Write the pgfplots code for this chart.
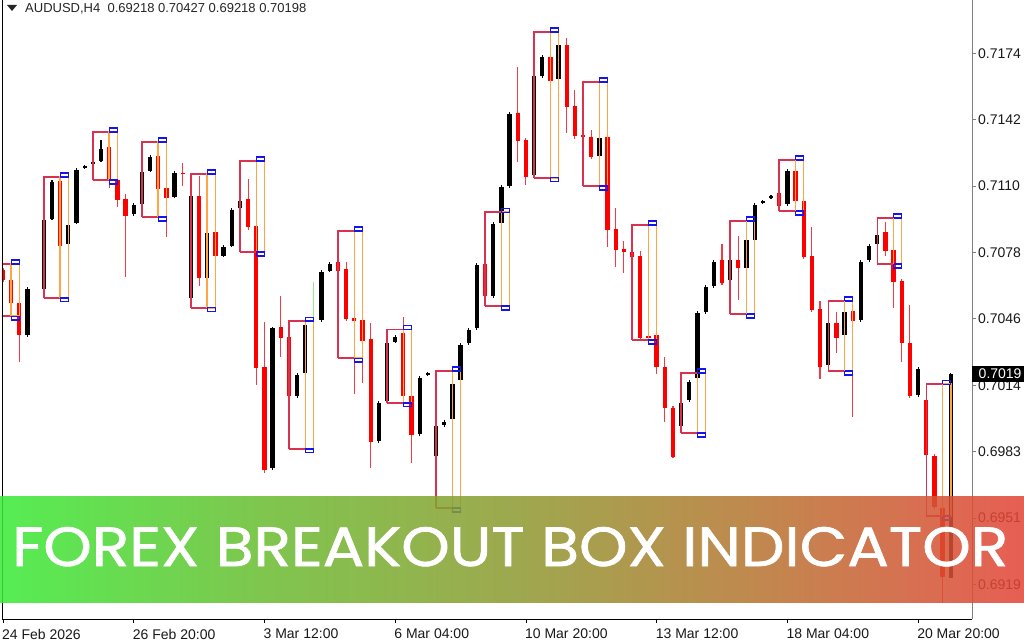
\documentclass[border=0pt]{standalone}
\usepackage{pgfplots}
\pgfplotsset{compat=1.18}
\usepackage{pgfplotstable}
\usepackage{fontspec}
\setmainfont{Liberation Sans}
\newfontfamily\bannerfont[FakeBold=1.2]{Poppins}
\usetikzlibrary{shadings}

\definecolor{crim}{RGB}{215,50,80}
\definecolor{orng}{RGB}{255,165,70}
\definecolor{blu}{RGB}{20,20,235}
\definecolor{wickred}{RGB}{240,60,70}
\definecolor{lgreen}{RGB}{150,230,150}
\definecolor{bA}{RGB}{58,235,55}
\definecolor{bB}{RGB}{105,190,50}
\definecolor{bC}{RGB}{142,155,50}
\definecolor{bD}{RGB}{185,115,50}
\definecolor{bE}{RGB}{228,68,55}
\pgfdeclarehorizontalshading{banner}{100bp}{color(0bp)=(bA); color(25bp)=(bA); color(37.5bp)=(bB); color(50bp)=(bC); color(62.5bp)=(bD); color(75bp)=(bE); color(100bp)=(bE)}

\pgfplotstableread{
i o h l c
3 0.70385 0.70616 0.70375 0.70607
5 0.70607 0.70948 0.70602 0.70938
6 0.70943 0.71131 0.70938 0.71121
8 0.70823 0.70924 0.70813 0.70914
9 0.70924 0.71189 0.70919 0.71179
10 0.71189 0.71203 0.71184 0.71198
11 0.71208 0.71222 0.71203 0.71217
12 0.71222 0.71323 0.71217 0.71280
16 0.70967 0.71020 0.70957 0.71010
17 0.71015 0.71179 0.71005 0.71169
18 0.71174 0.71251 0.71169 0.71241
21 0.71049 0.71174 0.71045 0.71165
23 0.70564 0.71064 0.70516 0.71054
25 0.70660 0.70885 0.70650 0.70876
27 0.70765 0.70818 0.70760 0.70808
28 0.70813 0.70996 0.70808 0.70986
29 0.70996 0.71040 0.70991 0.71029
33 0.69747 0.70428 0.69736 0.70419
36 0.70092 0.70203 0.70083 0.70193
37 0.70203 0.70447 0.70193 0.70433
39 0.70457 0.70698 0.70447 0.70688
40 0.70693 0.70736 0.70688 0.70727
46 0.69876 0.70068 0.69867 0.70059
47 0.70068 0.70356 0.70059 0.70347
48 0.70351 0.70385 0.70347 0.70375
51 0.69910 0.70188 0.69900 0.70179
52 0.70193 0.70207 0.70188 0.70203
53 0.69804 0.69958 0.69554 0.69948
54 0.69953 0.69977 0.69943 0.69967
55 0.69982 0.70159 0.69972 0.70150
56 0.70169 0.70347 0.70159 0.70337
57 0.70347 0.70419 0.70337 0.70409
58 0.70419 0.70732 0.70409 0.70722
60 0.70573 0.70928 0.70564 0.70919
61 0.70924 0.71107 0.70914 0.71097
62 0.71102 0.71457 0.71093 0.71448
65 0.71155 0.71640 0.71141 0.71630
66 0.71630 0.71732 0.71621 0.71722
68 0.71616 0.71790 0.71606 0.71780
73 0.71246 0.71342 0.71237 0.71333
83 0.69948 0.70068 0.69938 0.70059
84 0.70073 0.70169 0.70063 0.70159
85 0.70179 0.70500 0.70169 0.70491
86 0.70495 0.70626 0.70486 0.70616
87 0.70621 0.70746 0.70612 0.70736
89 0.70650 0.70756 0.70640 0.70746
91 0.70708 0.70852 0.70698 0.70842
92 0.70842 0.71020 0.70832 0.71010
93 0.71020 0.71034 0.71015 0.71029
94 0.71045 0.71059 0.71040 0.71054
96 0.71015 0.71184 0.71005 0.71174
101 0.70241 0.70452 0.70231 0.70442
103 0.70385 0.70505 0.70375 0.70495
105 0.70457 0.70746 0.70447 0.70736
106 0.70746 0.70823 0.70736 0.70813
107 0.70823 0.70880 0.70813 0.70870
112 0.70097 0.70231 0.70088 0.70222
116 0.69218 0.70205 0.69218 0.70198
}\bull

\pgfplotstableread{
i o h l c
0 0.70698 0.70708 0.70640 0.70650
1 0.70650 0.70660 0.70530 0.70540
2 0.70540 0.70554 0.70255 0.70385
7 0.71126 0.71145 0.70804 0.70813
13 0.71289 0.71318 0.71093 0.71131
14 0.71131 0.71141 0.71000 0.71034
15 0.71040 0.71064 0.70664 0.70957
19 0.71246 0.71275 0.71083 0.71088
20 0.71093 0.71102 0.70856 0.71045
22 0.71165 0.71213 0.71102 0.71160
24 0.71054 0.71150 0.70621 0.70660
26 0.70880 0.70890 0.70756 0.70765
30 0.71040 0.71136 0.70890 0.70904
31 0.70909 0.70919 0.70145 0.70227
32 0.70231 0.70447 0.69722 0.69736
34 0.70423 0.70573 0.70279 0.70371
35 0.70375 0.70452 0.70083 0.70092
41 0.70736 0.70746 0.70684 0.70693
42 0.70703 0.70736 0.70452 0.70462
43 0.70467 0.70476 0.70102 0.70452
44 0.70457 0.70467 0.70155 0.70356
45 0.70366 0.70443 0.69747 0.69871
49 0.70395 0.70471 0.70083 0.70092
50 0.70092 0.70102 0.69771 0.69905
59 0.70727 0.70736 0.70564 0.70573
63 0.71453 0.71674 0.71217 0.71318
64 0.71323 0.71333 0.71107 0.71145
67 0.71722 0.71732 0.71597 0.71606
69 0.71780 0.71814 0.71357 0.71481
70 0.71486 0.71563 0.71328 0.71342
71 0.71347 0.71352 0.71333 0.71337
72 0.71337 0.71371 0.71232 0.71241
74 0.71337 0.71347 0.70808 0.70890
75 0.70895 0.70996 0.70712 0.70794
76 0.70799 0.70837 0.70684 0.70784
77 0.70784 0.70794 0.70751 0.70760
78 0.70765 0.70789 0.70361 0.70371
79 0.70380 0.70385 0.70366 0.70371
80 0.70385 0.70395 0.70198 0.70231
81 0.70231 0.70279 0.69967 0.70035
82 0.70035 0.70044 0.69795 0.69799
88 0.70746 0.70823 0.70626 0.70636
90 0.70746 0.70861 0.70554 0.70708
95 0.71069 0.71078 0.70996 0.71005
97 0.71174 0.71184 0.71020 0.71029
98 0.71029 0.71040 0.70751 0.70760
99 0.70765 0.70904 0.70495 0.70505
100 0.70511 0.70549 0.70173 0.70231
102 0.70442 0.70495 0.70299 0.70371
104 0.70500 0.70510 0.69991 0.70452
108 0.70880 0.70928 0.70765 0.70789
109 0.70794 0.70803 0.70516 0.70640
110 0.70645 0.70655 0.70255 0.70347
111 0.70347 0.70530 0.70083 0.70092
113 0.70073 0.70083 0.69799 0.69809
114 0.69804 0.69814 0.69549 0.69558
115 0.69554 0.69563 0.69098 0.69222
}\bear

\begin{document}
\begin{tikzpicture}[x=1pt,y=1pt]
\useasboundingbox (0,0) rectangle (1024,640);
\fill[white] (0,0) rectangle (1024,640);
\begin{axis}[
  at={(2pt,21pt)}, anchor=south west,
  scale only axis, width=970pt, height=619pt,
  xmin=-0.12, xmax=118.6, ymin=0.69020, ymax=0.71996,
  axis x line*=bottom, axis y line*=right,
  x axis line style={draw=black, line width=1pt},
  y axis line style={draw=black!50, line width=1pt},
  tick align=outside, major tick length=4pt,
  xtick style={draw=black, line width=0.8pt},
  ytick style={draw=black!50, line width=0.8pt},
  scaled y ticks=false,
  unbounded coords=jump,
  xtick={0,16,32,48,64,80,96,112},
  xticklabels={24 Feb 2026,26 Feb 20:00,3 Mar 12:00,6 Mar 04:00,10 Mar 20:00,13 Mar 12:00,18 Mar 04:00,20 Mar 20:00},
  ytick={0.71740,0.71421,0.71101,0.70782,0.70463,0.70144,0.69825,0.69506,0.69186},
  yticklabels={0.7174,0.7142,0.7110,0.7078,0.7046,0.7014,0.6983,0.6951,0.6919},
  xticklabel style={overlay, anchor=west, inner sep=0pt, font=\fontsize{14}{16}\selectfont, text=black!90, yshift=-11pt, xshift=-1pt},
  yticklabel style={overlay, anchor=west, inner sep=0pt, font=\fontsize{14}{16}\selectfont, text=black!90, xshift=2pt},
  /pgf/number format/assume math mode=true,
]
% wicks
\addplot[draw=none, mark=none, forget plot, error bars/.cd, y dir=both, y explicit, error mark=none,
  error bar style={draw=black, line width=1.1pt}]
  table[x=i, y expr={(\thisrow{h}+\thisrow{l})/2}, y error expr={(\thisrow{h}-\thisrow{l})/2}] {\bull};
\addplot[draw=none, mark=none, forget plot, error bars/.cd, y dir=both, y explicit, error mark=none,
  error bar style={draw=wickred, line width=1.1pt}]
  table[x=i, y expr={(\thisrow{h}+\thisrow{l})/2}, y error expr={(\thisrow{h}-\thisrow{l})/2}] {\bear};
% bodies
\addplot[draw=none, mark=none, forget plot, error bars/.cd, y dir=both, y explicit, error mark=none,
  error bar style={draw=black, line width=4.3pt}]
  table[x=i, y expr={(\thisrow{o}+\thisrow{c})/2}, y error expr={max(abs(\thisrow{o}-\thisrow{c})/2,0.000025)}] {\bull};
\addplot[draw=none, mark=none, forget plot, error bars/.cd, y dir=both, y explicit, error mark=none,
  error bar style={draw=red, line width=4.3pt}]
  table[x=i, y expr={(\thisrow{o}+\thisrow{c})/2}, y error expr={max(abs(\thisrow{o}-\thisrow{c})/2,0.000025)}] {\bear};
\addplot[draw=lgreen, line width=1.1pt, mark=none, forget plot] coordinates {(38,0.70640) (38,0.70457)};
% breakout boxes: session range (crimson), breakout zone (orange), edges (blue)
\addplot[draw=crim, line width=1.4pt, mark=none, forget plot] coordinates {
(-1,0.70476) (1,0.70476) (1,0.70727) (-1,0.70727) (-1,0.70476) (0,nan)
(5,0.70564) (7,0.70564) (7,0.71145) (5,0.71145) (5,0.70564) (0,nan)
(11,0.71131) (13,0.71131) (13,0.71361) (11,0.71361) (11,0.71131) (0,nan)
(17,0.70952) (19,0.70952) (19,0.71313) (17,0.71313) (17,0.70952) (0,nan)
(23,0.70516) (25,0.70516) (25,0.71160) (23,0.71160) (23,0.70516) (0,nan)
(29,0.70784) (31,0.70784) (31,0.71222) (29,0.71222) (29,0.70784) (0,nan)
(35,0.69838) (37,0.69838) (37,0.70452) (35,0.70452) (35,0.69838) (0,nan)
(41,0.70274) (43,0.70274) (43,0.70885) (41,0.70885) (41,0.70274) (0,nan)
(47,0.70059) (49,0.70059) (49,0.70413) (47,0.70413) (47,0.70059) (0,nan)
(53,0.69554) (55,0.69554) (55,0.70212) (53,0.70212) (53,0.69554) (0,nan)
(59,0.70525) (61,0.70525) (61,0.70976) (59,0.70976) (59,0.70525) (0,nan)
(65,0.71141) (67,0.71141) (67,0.71842) (65,0.71842) (65,0.71141) (0,nan)
(71,0.71102) (73,0.71102) (73,0.71602) (71,0.71602) (71,0.71102) (0,nan)
(77,0.70361) (79,0.70361) (79,0.70914) (77,0.70914) (77,0.70361) (0,nan)
(83,0.69914) (85,0.69914) (85,0.70203) (83,0.70203) (83,0.69914) (0,nan)
(89,0.70486) (91,0.70486) (91,0.70933) (89,0.70933) (89,0.70486) (0,nan)
(95,0.70981) (97,0.70981) (97,0.71227) (95,0.71227) (95,0.70981) (0,nan)
(101,0.70212) (103,0.70212) (103,0.70549) (101,0.70549) (101,0.70212) (0,nan)
(107,0.70727) (109,0.70727) (109,0.70948) (107,0.70948) (107,0.70727) (0,nan)
(113,0.69515) (115,0.69515) (115,0.70149) (113,0.70149) (113,0.69515)
};
\addplot[draw=orng, line width=1.5pt, mark=none, forget plot] coordinates {
(1,0.70476) (2,0.70476) (2,0.70727) (1,0.70727) (1,0.70476) (0,nan)
(7,0.70564) (8,0.70564) (8,0.71145) (7,0.71145) (7,0.70564) (0,nan)
(13,0.71131) (14,0.71131) (14,0.71361) (13,0.71361) (13,0.71131) (0,nan)
(19,0.70952) (20,0.70952) (20,0.71313) (19,0.71313) (19,0.70952) (0,nan)
(25,0.70516) (26,0.70516) (26,0.71160) (25,0.71160) (25,0.70516) (0,nan)
(31,0.70784) (32,0.70784) (32,0.71222) (31,0.71222) (31,0.70784) (0,nan)
(37,0.69838) (38,0.69838) (38,0.70452) (37,0.70452) (37,0.69838) (0,nan)
(43,0.70274) (44,0.70274) (44,0.70885) (43,0.70885) (43,0.70274) (0,nan)
(49,0.70059) (50,0.70059) (50,0.70413) (49,0.70413) (49,0.70059) (0,nan)
(55,0.69554) (56,0.69554) (56,0.70212) (55,0.70212) (55,0.69554) (0,nan)
(61,0.70525) (62,0.70525) (62,0.70976) (61,0.70976) (61,0.70525) (0,nan)
(67,0.71141) (68,0.71141) (68,0.71842) (67,0.71842) (67,0.71141) (0,nan)
(73,0.71102) (74,0.71102) (74,0.71602) (73,0.71602) (73,0.71102) (0,nan)
(79,0.70361) (80,0.70361) (80,0.70914) (79,0.70914) (79,0.70361) (0,nan)
(85,0.69914) (86,0.69914) (86,0.70203) (85,0.70203) (85,0.69914) (0,nan)
(91,0.70486) (92,0.70486) (92,0.70933) (91,0.70933) (91,0.70486) (0,nan)
(97,0.70981) (98,0.70981) (98,0.71227) (97,0.71227) (97,0.70981) (0,nan)
(103,0.70212) (104,0.70212) (104,0.70549) (103,0.70549) (103,0.70212) (0,nan)
(109,0.70727) (110,0.70727) (110,0.70948) (109,0.70948) (109,0.70727) (0,nan)
(115,0.69515) (116,0.69515) (116,0.70149) (115,0.70149) (115,0.69515)
};
\addplot[draw=blu, line width=1.3pt, mark=none, forget plot] coordinates {
(1,0.70727) (2,0.70727) (2,0.70746) (1,0.70746) (1,0.70727) (0,nan)
(1,0.70476) (2,0.70476) (2,0.70457) (1,0.70457) (1,0.70476) (0,nan)
(7,0.71145) (8,0.71145) (8,0.71164) (7,0.71164) (7,0.71145) (0,nan)
(7,0.70564) (8,0.70564) (8,0.70545) (7,0.70545) (7,0.70564) (0,nan)
(13,0.71361) (14,0.71361) (14,0.71380) (13,0.71380) (13,0.71361) (0,nan)
(13,0.71131) (14,0.71131) (14,0.71112) (13,0.71112) (13,0.71131) (0,nan)
(19,0.71313) (20,0.71313) (20,0.71332) (19,0.71332) (19,0.71313) (0,nan)
(19,0.70952) (20,0.70952) (20,0.70933) (19,0.70933) (19,0.70952) (0,nan)
(25,0.71160) (26,0.71160) (26,0.71179) (25,0.71179) (25,0.71160) (0,nan)
(25,0.70516) (26,0.70516) (26,0.70497) (25,0.70497) (25,0.70516) (0,nan)
(31,0.71222) (32,0.71222) (32,0.71241) (31,0.71241) (31,0.71222) (0,nan)
(31,0.70784) (32,0.70784) (32,0.70765) (31,0.70765) (31,0.70784) (0,nan)
(37,0.70452) (38,0.70452) (38,0.70471) (37,0.70471) (37,0.70452) (0,nan)
(37,0.69838) (38,0.69838) (38,0.69819) (37,0.69819) (37,0.69838) (0,nan)
(43,0.70885) (44,0.70885) (44,0.70904) (43,0.70904) (43,0.70885) (0,nan)
(43,0.70274) (44,0.70274) (44,0.70255) (43,0.70255) (43,0.70274) (0,nan)
(49,0.70413) (50,0.70413) (50,0.70432) (49,0.70432) (49,0.70413) (0,nan)
(49,0.70059) (50,0.70059) (50,0.70040) (49,0.70040) (49,0.70059) (0,nan)
(55,0.70212) (56,0.70212) (56,0.70231) (55,0.70231) (55,0.70212) (0,nan)
(55,0.69554) (56,0.69554) (56,0.69535) (55,0.69535) (55,0.69554) (0,nan)
(61,0.70976) (62,0.70976) (62,0.70995) (61,0.70995) (61,0.70976) (0,nan)
(61,0.70525) (62,0.70525) (62,0.70506) (61,0.70506) (61,0.70525) (0,nan)
(67,0.71842) (68,0.71842) (68,0.71861) (67,0.71861) (67,0.71842) (0,nan)
(67,0.71141) (68,0.71141) (68,0.71122) (67,0.71122) (67,0.71141) (0,nan)
(73,0.71602) (74,0.71602) (74,0.71621) (73,0.71621) (73,0.71602) (0,nan)
(73,0.71102) (74,0.71102) (74,0.71083) (73,0.71083) (73,0.71102) (0,nan)
(79,0.70914) (80,0.70914) (80,0.70933) (79,0.70933) (79,0.70914) (0,nan)
(79,0.70361) (80,0.70361) (80,0.70342) (79,0.70342) (79,0.70361) (0,nan)
(85,0.70203) (86,0.70203) (86,0.70222) (85,0.70222) (85,0.70203) (0,nan)
(85,0.69914) (86,0.69914) (86,0.69895) (85,0.69895) (85,0.69914) (0,nan)
(91,0.70933) (92,0.70933) (92,0.70952) (91,0.70952) (91,0.70933) (0,nan)
(91,0.70486) (92,0.70486) (92,0.70467) (91,0.70467) (91,0.70486) (0,nan)
(97,0.71227) (98,0.71227) (98,0.71246) (97,0.71246) (97,0.71227) (0,nan)
(97,0.70981) (98,0.70981) (98,0.70962) (97,0.70962) (97,0.70981) (0,nan)
(103,0.70549) (104,0.70549) (104,0.70568) (103,0.70568) (103,0.70549) (0,nan)
(103,0.70212) (104,0.70212) (104,0.70193) (103,0.70193) (103,0.70212) (0,nan)
(109,0.70948) (110,0.70948) (110,0.70967) (109,0.70967) (109,0.70948) (0,nan)
(109,0.70727) (110,0.70727) (110,0.70708) (109,0.70708) (109,0.70727) (0,nan)
(115,0.70149) (116,0.70149) (116,0.70168) (115,0.70168) (115,0.70149) (0,nan)
(115,0.69515) (116,0.69515) (116,0.69496) (115,0.69496) (115,0.69515)
};
\coordinate (tag) at (axis cs:118.6,0.70198);
\end{axis}
\draw[black, line width=1pt] (2.5,21) -- (2.5,640);
\node[anchor=west, fill=black, text=white, inner xsep=6.5pt, inner ysep=0pt, minimum height=16pt,
  font=\fontsize{14}{16}\selectfont] at (tag) {0.7019};
% header
\fill[black!85] (7,635) -- (17,635) -- (12,629) -- cycle;
\node[anchor=base west, inner sep=0pt, font=\fontsize{13}{15}\selectfont, text=black!85] at (25,627)
  {AUDUSD,H4\ \ 0.69218 0.70427 0.69218 0.70198};
% banner
\shade[shading=banner, opacity=0.86] (0,38) rectangle (1024,144);
\node[anchor=base west, inner sep=0pt, text=white] at (12,74)
  {\resizebox{996pt}{39pt}{\bannerfont FOREX BREAKOUT BOX INDICATOR}};
\end{tikzpicture}
\end{document}
